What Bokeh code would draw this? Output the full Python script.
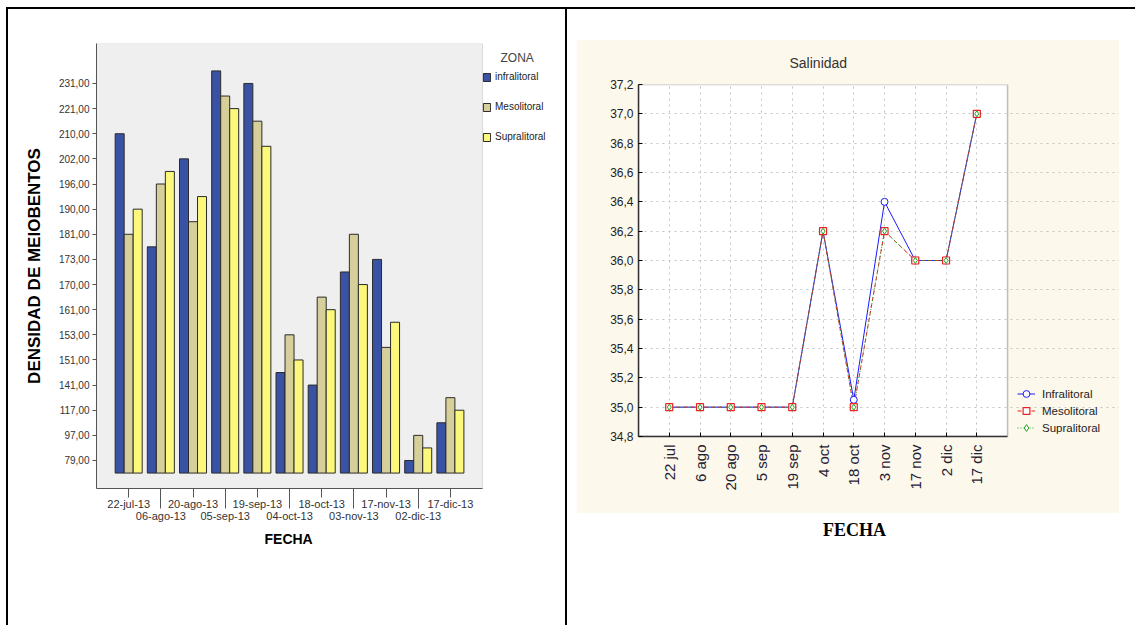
import math
from bokeh.plotting import figure
from bokeh.models import (ColumnDataSource, Range1d, LinearAxis, FixedTicker, Legend,
                          LegendItem, Div, Grid, CustomJSTickFormatter, BoxAnnotation,
                          Label, Title)
from bokeh.layouts import row, column
from bokeh.transform import dodge
from bokeh.embed import file_html
from bokeh.resources import INLINE

# ---------------- data: left chart (SPSS bar chart, ordinal value axis) ----------------
fechas_barras = ["22-jul-13", "06-ago-13", "20-ago-13", "05-sep-13", "19-sep-13", "04-oct-13",
                 "18-oct-13", "03-nov-13", "17-nov-13", "02-dic-13", "17-dic-13"]
etiquetas_densidad = ["79,00", "97,00", "117,00", "141,00", "151,00", "153,00", "161,00",
                      "170,00", "173,00", "181,00", "190,00", "196,00", "202,00", "210,00",
                      "221,00", "231,00"]
# bar tops expressed as positions on the (ordinal) density axis above
infralitoral = [13, 8.5, 12, 15.5, 15, 3.5, 3, 7.5, 8, 0, 1.5]
mesolitoral = [9, 11, 9.5, 14.5, 13.5, 5, 6.5, 9, 4.5, 1, 2.5]
supralitoral = [10, 11.5, 10.5, 14, 12.5, 4, 6, 7, 5.5, 0.5, 2]
zonas = ["infralitoral", "Mesolitoral", "Supralitoral"]

# ---------------- data: right chart (Salinidad) ----------------
fechas_linea = ["22 jul", "6 ago", "20 ago", "5 sep", "19 sep", "4 oct", "18 oct",
                "3 nov", "17 nov", "2 dic", "17 dic"]
sal_infralitoral = [35.0, 35.0, 35.0, 35.0, 35.0, 36.2, 35.05, 36.4, 36.0, 36.0, 37.0]
sal_mesolitoral = [35.0, 35.0, 35.0, 35.0, 35.0, 36.2, 35.0, 36.2, 36.0, 36.0, 37.0]
sal_supralitoral = [35.0, 35.0, 35.0, 35.0, 35.0, 36.2, 35.0, 36.2, 36.0, 36.0, 37.0]
sal_ticks = [34.8, 35.0, 35.2, 35.4, 35.6, 35.8, 36.0, 36.2, 36.4, 36.6, 36.8, 37.0, 37.2]
series_labels = ["Infralitoral", "Mesolitoral", "Supralitoral"]

FONT = "Liberation Sans"

n = len(fechas_barras)
pos = list(range(1, n + 1))
x_span = (0, n + 1)          # plotting area of each chart in x data units

# =================== LEFT FIGURE ===================
src = ColumnDataSource(dict(pos=pos, infra=infralitoral, meso=mesolitoral, supra=supralitoral))

# frame covers the plot area and the legend column; the grey plot box is an underlay
left = figure(width=559, height=616, x_range=Range1d(0, 14.64), y_range=Range1d(-1.114, 16.59),
              x_axis_type=None, y_axis_type=None, output_backend="svg", toolbar_location=None,
              min_border_left=88, min_border_right=0, min_border_top=34, min_border_bottom=137,
              background_fill_color="white", border_fill_color="white",
              outline_line_color=None,
              styles={"border-right": "2px solid black"})
left.add_layout(BoxAnnotation(left=x_span[0], right=x_span[1], fill_color="#efefef", fill_alpha=1,
                              line_color="#9a9a9a", line_width=1, level="underlay"))

bar_w = 0.28
colors = ["#3a52a3", "#d6cf9a", "#fbf87c"]
r1 = left.vbar(x=dodge("pos", -bar_w), top="infra", bottom=-0.5, width=bar_w, source=src,
               fill_color=colors[0], line_color="#2b2b2b", line_width=1)
r2 = left.vbar(x=dodge("pos", 0), top="meso", bottom=-0.5, width=bar_w, source=src,
               fill_color=colors[1], line_color="#2b2b2b", line_width=1)
r3 = left.vbar(x=dodge("pos", bar_w), top="supra", bottom=-0.5, width=bar_w, source=src,
               fill_color=colors[2], line_color="#2b2b2b", line_width=1)

yax = LinearAxis(ticker=FixedTicker(ticks=list(range(len(etiquetas_densidad)))),
                 major_label_overrides={i: t for i, t in enumerate(etiquetas_densidad)},
                 axis_label="DENSIDAD DE MEIOBENTOS")
yax.axis_label_text_font = FONT
yax.axis_label_text_font_size = "17px"
yax.axis_label_text_font_style = "bold"
yax.axis_label_text_color = "black"
yax.axis_label_standoff = 12
yax.major_label_text_font = FONT
yax.major_label_text_font_size = "10px"
yax.major_label_text_color = "#333333"
yax.major_label_standoff = 3
yax.major_tick_out = 4
yax.major_tick_in = 0
yax.minor_tick_out = 0
yax.minor_tick_in = 0
yax.axis_line_color = "#555555"
yax.major_tick_line_color = "#555555"
left.add_layout(yax, "left")

odd_pos = pos[0::2]
even_pos = pos[1::2]
xax1 = LinearAxis(ticker=FixedTicker(ticks=odd_pos, minor_ticks=even_pos), bounds=x_span,
                  major_label_overrides={p: fechas_barras[p - 1] for p in odd_pos})
xax1.major_tick_out = 9
xax1.major_tick_in = 0
xax1.minor_tick_out = 20
xax1.minor_tick_in = 0
xax1.major_label_standoff = -11
xax1.major_label_text_font = FONT
xax1.major_label_text_font_size = "11px"
xax1.major_label_text_color = "#333333"
xax1.axis_line_color = "#555555"
xax1.major_tick_line_color = "#555555"
xax1.minor_tick_line_color = "#555555"
left.add_layout(xax1, "below")

xax2 = LinearAxis(ticker=FixedTicker(ticks=even_pos), bounds=x_span,
                  major_label_overrides={p: fechas_barras[p - 1] for p in even_pos})
xax2.major_tick_out = 0
xax2.major_tick_in = 0
xax2.minor_tick_out = 0
xax2.minor_tick_in = 0
xax2.major_label_standoff = -3
xax2.axis_line_color = None
xax2.major_label_text_font = FONT
xax2.major_label_text_font_size = "11px"
xax2.major_label_text_color = "#333333"
left.add_layout(xax2, "below")

left.add_layout(Title(text="FECHA", align="left", offset=168, standoff=8, text_font=FONT,
                      text_font_size="14px", text_font_style="bold", text_color="black"), "below")

left.add_layout(Label(x=404, y=431, x_units="screen", y_units="screen", text="ZONA",
                      text_font=FONT, text_font_size="12px", text_color="#444444",
                      text_baseline="middle"))

leg1 = Legend(items=[LegendItem(label=zonas[0], renderers=[r1]),
                     LegendItem(label=zonas[1], renderers=[r2]),
                     LegendItem(label=zonas[2], renderers=[r3])],
              location=(386, 346), orientation="vertical",
              glyph_width=9, glyph_height=10, label_height=10, label_standoff=4,
              spacing=19, padding=2, margin=0,
              label_text_font=FONT, label_text_font_size="10px", label_text_color="#222222",
              background_fill_alpha=0, border_line_color=None)
left.add_layout(leg1, "center")

# =================== RIGHT FIGURE ===================
src2 = ColumnDataSource(dict(pos=pos, a=sal_infralitoral, b=sal_mesolitoral, c=sal_supralitoral))
right = figure(width=543, height=474, x_range=Range1d(0, 15.64), y_range=Range1d(34.8, 37.2),
               x_axis_type=None, y_axis_type=None, output_backend="svg", toolbar_location=None,
               min_border_left=62, min_border_right=0, min_border_top=43, min_border_bottom=77,
               background_fill_color="#fdf8ec", border_fill_color="#fdf8ec",
               outline_line_color=None, margin=(30, 13, 0, 9))
right.add_layout(Title(text="Salinidad", align="left", offset=151, standoff=27, text_font=FONT,
                       text_font_size="14px", text_font_style="normal", text_color="#333333"),
                 "above")
right.add_layout(BoxAnnotation(left=x_span[0], right=x_span[1], fill_color="white", fill_alpha=1,
                               line_color="#333333", line_width=1.5, level="underlay"))

xt = FixedTicker(ticks=pos)
yt = FixedTicker(ticks=sal_ticks)
right.add_layout(Grid(dimension=0, ticker=xt, grid_line_color="#c4c4c4", grid_line_dash="dotted"), "center")
right.add_layout(Grid(dimension=1, ticker=yt, bounds=x_span, grid_line_color="#c4c4c4",
                      grid_line_dash="dotted"), "center")

ryax = LinearAxis(ticker=yt, formatter=CustomJSTickFormatter(code="return tick.toFixed(1).replace('.', ',');"))
ryax.major_label_text_font = FONT
ryax.major_label_text_font_size = "12px"
ryax.major_label_text_color = "#222222"
ryax.major_label_standoff = 5
ryax.major_tick_in = 4
ryax.major_tick_out = 0
ryax.minor_tick_in = 0
ryax.minor_tick_out = 0
ryax.axis_line_color = "#333333"
ryax.axis_line_width = 1.5
right.add_layout(ryax, "left")

rxax = LinearAxis(ticker=xt, bounds=x_span,
                  major_label_overrides={p: fechas_linea[p - 1] for p in pos})
rxax.major_label_orientation = math.pi / 2
rxax.major_label_text_font = FONT
rxax.major_label_text_font_size = "15px"
rxax.major_label_text_color = "#1f2233"
rxax.major_label_standoff = 8
rxax.major_tick_in = 4
rxax.major_tick_out = 0
rxax.minor_tick_in = 0
rxax.minor_tick_out = 0
rxax.axis_line_color = "#333333"
rxax.axis_line_width = 1.5
right.add_layout(rxax, "below")

l1 = right.line("pos", "a", source=src2, line_color="#1a1aff", line_width=1)
l2 = right.line("pos", "b", source=src2, line_color="#ee2222", line_width=1, line_dash="4 3")
l3 = right.line("pos", "c", source=src2, line_color="#22a022", line_width=1, line_dash="1 2")
s1 = right.scatter("pos", "a", source=src2, marker="circle", size=7, line_color="#1a1aff",
                   fill_color="white", line_width=1)
s2 = right.scatter("pos", "b", source=src2, marker="square", size=7, line_color="#ee2222",
                   fill_color="white", line_width=1.2)
s3 = right.scatter("pos", "c", source=src2, marker="diamond", size=6, line_color="#22a022",
                   fill_color="white", line_width=1)

leg2 = Legend(items=[LegendItem(label=series_labels[0], renderers=[l1, s1]),
                     LegendItem(label=series_labels[1], renderers=[l2, s2]),
                     LegendItem(label=series_labels[2], renderers=[l3, s3])],
              location=(379, 0), orientation="vertical",
              glyph_width=18, glyph_height=17, label_height=17, label_standoff=7,
              spacing=0, padding=0, margin=0,
              label_text_font=FONT, label_text_font_size="11.5px", label_text_color="#222222",
              background_fill_alpha=0, border_line_color=None)
right.add_layout(leg2, "center")

fecha_div = Div(text="FECHA", width=565, height=24,
                styles={"text-align": "center", "font-family": "'Liberation Serif', serif",
                        "font-weight": "bold", "font-size": "18px", "color": "black"})

page = row(left, column(right, fecha_div), margin=(7, 0, 0, 6),
           styles={"border-top": "2px solid black", "border-left": "2px solid black"})

open("out.html", "w").write(file_html(page, INLINE))
